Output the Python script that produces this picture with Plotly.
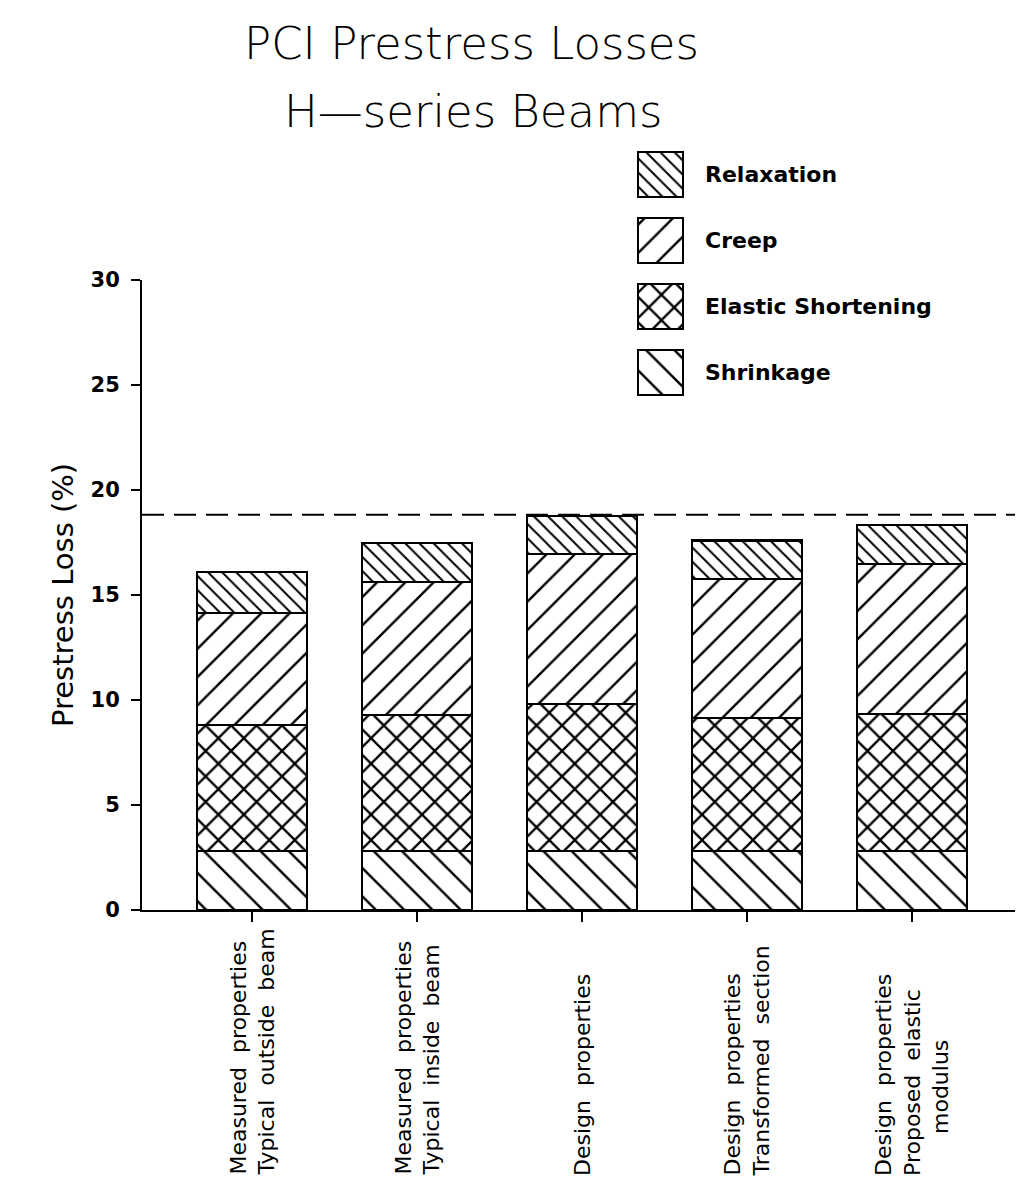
import plotly.graph_objects as go

# ---------------- data ----------------
categories = [
    "Measured\u00a0 properties<br>Typical\u00a0 outside\u00a0 beam",
    "Measured\u00a0 properties<br>Typical\u00a0 inside\u00a0 beam",
    "Design\u00a0 properties",
    "Design\u00a0 properties<br>Transformed\u00a0 section",
    "Design\u00a0 properties<br>Proposed\u00a0 elastic<br>\u00a0\u00a0\u00a0\u00a0\u00a0\u00a0modulus",
]
series_names = ["Shrinkage", "Elastic Shortening", "Creep", "Relaxation"]
shrinkage = [2.8, 2.8, 2.8, 2.8, 2.8]
elastic = [6.0, 6.5, 7.0, 6.35, 6.55]
creep = [5.33, 6.32, 7.14, 6.61, 7.13]
relaxation = [1.95, 1.84, 1.84, 1.84, 1.85]
reference_level = 18.82
y_ticks = [0, 5, 10, 15, 20, 25, 30]
title_lines = ["PCI Prestress Losses", "H\u2014series Beams"]
y_title = "Prestress Loss (%)"

series_values = [shrinkage, elastic, creep, relaxation]
patterns = {
    "Shrinkage": dict(shape="\\", size=20, solidity=0.12),
    "Elastic Shortening": dict(shape="x", size=18, solidity=0.24),
    "Creep": dict(shape="/", size=20, solidity=0.12),
    "Relaxation": dict(shape="\\", size=10, solidity=0.2),
}

FONT = "DejaVu Sans"
W, H = 1023, 1203
OFF = 8  # page body margin offset
PLOT_LEFT, PLOT_RIGHT, PLOT_TOP, PLOT_BOTTOM = 142 - OFF, 1023 - OFF, 140 - OFF, 910 - OFF
L, R, T, B = PLOT_LEFT, W - PLOT_RIGHT, PLOT_TOP, H - PLOT_BOTTOM
plot_h = PLOT_BOTTOM - PLOT_TOP
plot_w = PLOT_RIGHT - PLOT_LEFT
y_dom_top = (910 - 280) / plot_h

def py(px):  # target pixel y -> paper y
    return (PLOT_BOTTOM - (px - OFF)) / plot_h

def px_x(px):  # target pixel x -> paper x
    return ((px - OFF) - PLOT_LEFT) / plot_w

fig = go.Figure()
x_idx = list(range(len(categories)))

for name, vals in zip(series_names, series_values):
    p = patterns[name]
    fig.add_trace(go.Bar(
        x=x_idx, y=vals, name=name, width=0.667,
        marker=dict(color="white", line=dict(color="black", width=2.2),
                    pattern=dict(shape=p["shape"], size=p["size"], solidity=p["solidity"],
                                 fgcolor="black", bgcolor="white", fillmode="replace")),
        showlegend=False, xaxis="x", yaxis="y",
    ))

# legend inset (drawn as bars on a small helper axis)
legend_order = ["Relaxation", "Creep", "Elastic Shortening", "Shrinkage"]
for i, name in enumerate(legend_order):
    p = patterns[name]
    fig.add_trace(go.Bar(
        x=[1], y=[i], base=0, orientation="h", width=0.685,
        marker=dict(color="white", line=dict(color="black", width=2.2),
                    pattern=dict(shape=p["shape"], size=p["size"], solidity=p["solidity"],
                                 fgcolor="black", bgcolor="white", fillmode="replace")),
        showlegend=False, xaxis="x2", yaxis="y2", hoverinfo="skip",
    ))
    fig.add_annotation(x=px_x(703), xref="paper", y=i, yref="y2", text=name,
                       showarrow=False, xanchor="left", yanchor="middle",
                       font=dict(family=FONT, size=22, color="black", weight="bold"))

fig.add_shape(type="line", xref="paper", x0=0, x1=1, yref="y",
              y0=reference_level, y1=reference_level,
              line=dict(color="black", width=2, dash="22px,10px"))

# title
fig.add_annotation(x=px_x(471), y=py(44), xref="paper", yref="paper", text=title_lines[0],
                   showarrow=False, xanchor="center", yanchor="middle",
                   font=dict(family=FONT, size=45, color="black", weight=200))
fig.add_annotation(x=px_x(473), y=py(112), xref="paper", yref="paper", text=title_lines[1],
                   showarrow=False, xanchor="center", yanchor="middle",
                   font=dict(family=FONT, size=45, color="black", weight=200))

# y title
fig.add_annotation(x=px_x(63), y=py(595), xref="paper", yref="paper", text=y_title,
                   showarrow=False, textangle=-90, xanchor="center", yanchor="middle",
                   font=dict(family=FONT, size=29, color="black"))

# category labels
for i, c in enumerate(categories):
    fig.add_annotation(x=i, xref="x", y=py(1178), yref="paper", text=c,
                       showarrow=False, textangle=-90, xanchor="center", yanchor="bottom",
                       align="left", font=dict(family=FONT, size=22, color="black"))

fig.update_layout(
    width=W, height=H, margin=dict(l=L, r=R, t=T, b=B, pad=0),
    paper_bgcolor="white", plot_bgcolor="white",
    barmode="stack", showlegend=False,
    font=dict(family=FONT, color="black"),
    xaxis=dict(domain=[0, 1], range=[-0.667, 4.673], tickvals=x_idx,
               ticktext=[""] * len(x_idx), ticks="outside", ticklen=10, tickwidth=2,
               tickcolor="black", showline=True, linecolor="black", linewidth=2,
               showgrid=False, zeroline=False, anchor="y"),
    yaxis=dict(domain=[0, y_dom_top], range=[0, 30], tickvals=y_ticks, ticks="outside",
               ticklen=9, tickwidth=2, tickcolor="black", showline=True, linecolor="black",
               linewidth=2, showgrid=False, zeroline=False, anchor="x",
               tickfont=dict(family=FONT, size=21, color="black", weight="bold"),
               ticklabelstandoff=7),
    xaxis2=dict(domain=[px_x(636), px_x(685)], range=[-0.044, 1.044], visible=False,
                anchor="y2", fixedrange=True),
    yaxis2=dict(domain=[py(405), py(142)], range=[3.5, -0.5], visible=False,
                anchor="x2", fixedrange=True),
)

fig.write_html("out.html")
